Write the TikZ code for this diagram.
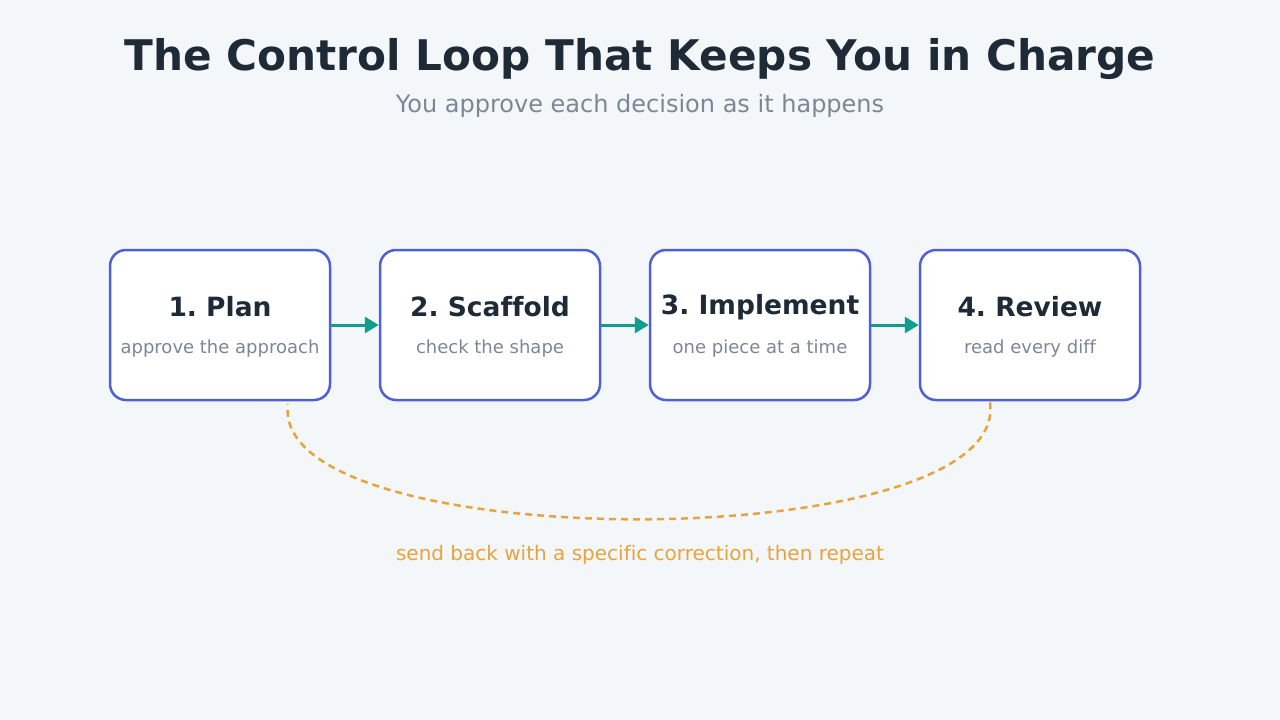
\documentclass[tikz,border=0pt]{standalone}
\usepackage{fontspec}
\setmainfont{DejaVu Sans}[Ligatures=NoCommon]
\usetikzlibrary{arrows.meta}
\definecolor{bgc}{HTML}{F3F7FA}
\definecolor{ink}{HTML}{1F2A37}
\definecolor{muted}{HTML}{7D8794}
\definecolor{edge}{HTML}{4F5FD8}
\definecolor{flow}{HTML}{119E8E}
\definecolor{loopc}{HTML}{E8A33D}
\frenchspacing
\begin{document}
\begin{tikzpicture}[x=1pt,y=-1pt,
  stage/.style={draw=edge,line width=2.5pt,fill=white,rounded corners=16pt,minimum width=220pt,minimum height=150pt},
  head/.style={font=\bfseries\fontsize{26.5}{30}\selectfont,text=ink},
  sub/.style={font=\fontsize{18}{21}\selectfont,text=muted},
  arr/.style={draw=flow,line width=3pt,-{Triangle[length=14pt,width=16pt]}}]
\fill[bgc] (0,0) rectangle (1280,720);
\useasboundingbox (0,0) rectangle (1280,720);
\node[font=\bfseries\fontsize{42.2}{48}\selectfont,text=ink] (title) at (640,59){The Control Loop That Keeps You in Charge};
\node[font=\fontsize{24}{28}\selectfont,text=muted] (subtitle) at (640,106){You approve each decision as it happens};
\node[stage] (plan) at (220,325){};\node[stage] (scaf) at (490,325){};
\node[stage] (impl) at (760,325){};\node[stage] (rev) at (1030,325){};
\node[head] at (220,307){1. Plan};\node[sub] at (220,348.5){approve the approach};
\node[head] at (490,307){2. Scaffold};\node[sub] at (490,348.5){check the shape};
\node[head] at (760,307){3. Implement};\node[sub] at (760,348.5){one piece at a time};
\node[head] at (1030,307){4. Review};\node[sub] at (1030,348.5){read every diff};
\draw[arr] (plan)--(scaf);\draw[arr] (scaf)--(impl);\draw[arr] (impl)--(rev);
\draw[loopc,line width=2.5pt,dash pattern=on 7pt off 5pt] ([xshift=-40pt,yshift=-1pt]rev.south) .. controls (1012,558) and (268,558) .. ([xshift=68pt,yshift=-3pt]plan.south);
\node[font=\fontsize{20}{24}\selectfont,text=loopc] (note) at (640,555){send back with a specific correction, then repeat};
\end{tikzpicture}
\end{document}
